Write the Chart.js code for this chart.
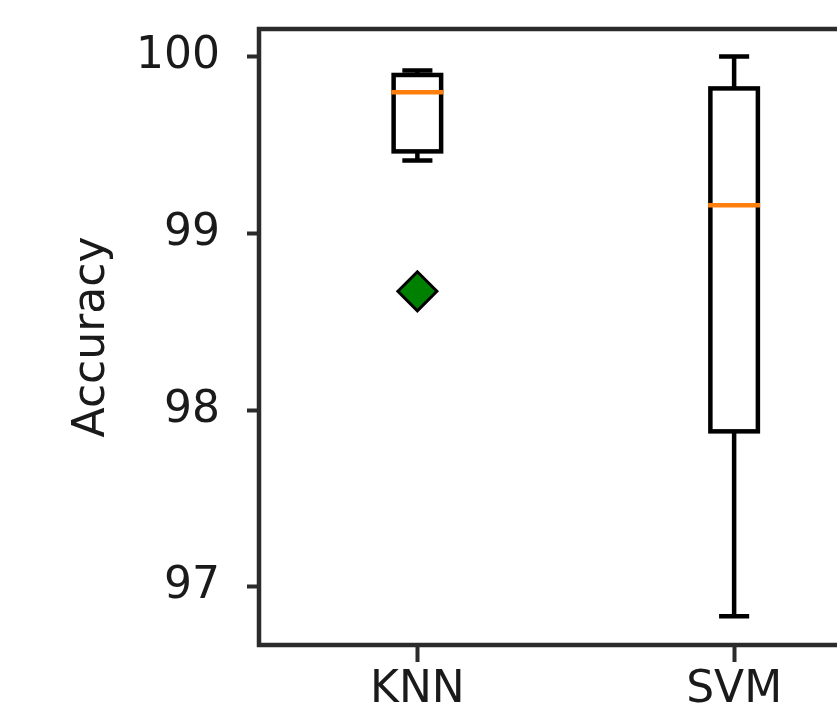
<!DOCTYPE html>
<html>
<head>
<meta charset="utf-8">
<script src="https://cdn.jsdelivr.net/npm/chart.js@4/dist/chart.umd.min.js"></script>
<style>
  html, body { margin: 0; padding: 0; background: #fff; overflow: hidden; }
  #frame { width: 837px; height: 709px; overflow: hidden; }
</style>
</head>
<body>
<div id="frame"><canvas id="chart" width="915" height="709"></canvas></div>
<script>
// box plot statistics
const labels      = ['KNN', 'SVM'];
const whiskerLow  = [99.412, 96.834];
const q1          = [99.463, 97.880];
const medians     = [99.797, 99.158];
const q3          = [99.895, 99.819];
const whiskerHigh = [99.921, 100.0];
const outliers    = [98.672, null];

const yTicks = [97, 98, 99, 100];
const yMin = 96.672;
const yMax = 100.155;

// widths as a fraction of the category spacing
const BOX_WIDTH = 0.15;
const CAP_WIDTH = 0.095;
const LINE_W = 4.5;

const boxPlugin = {
  id: 'boxes',
  beforeDatasetsDraw(chart) {
    const { ctx, scales: { x, y } } = chart;
    const step = x.getPixelForValue(1) - x.getPixelForValue(0);
    ctx.save();
    ctx.lineWidth = LINE_W;
    ctx.lineCap = 'butt';
    labels.forEach((_, i) => {
      const cx = x.getPixelForValue(i);
      const bw = step * BOX_WIDTH / 2;
      const cw = step * CAP_WIDTH / 2;
      const yq1 = y.getPixelForValue(q1[i]);
      const yq3 = y.getPixelForValue(q3[i]);
      const ylo = y.getPixelForValue(whiskerLow[i]);
      const yhi = y.getPixelForValue(whiskerHigh[i]);
      const ymed = y.getPixelForValue(medians[i]);

      ctx.strokeStyle = '#000';
      ctx.lineJoin = 'miter';
      ctx.strokeRect(cx - bw, yq3, bw * 2, yq1 - yq3);

      ctx.beginPath();
      ctx.moveTo(cx, yq1); ctx.lineTo(cx, ylo);
      ctx.moveTo(cx, yq3); ctx.lineTo(cx, yhi);
      ctx.moveTo(cx - cw, ylo); ctx.lineTo(cx + cw, ylo);
      ctx.moveTo(cx - cw, yhi); ctx.lineTo(cx + cw, yhi);
      ctx.stroke();

      ctx.strokeStyle = '#ff7f0e';
      ctx.beginPath();
      ctx.moveTo(cx - bw - LINE_W / 2, ymed);
      ctx.lineTo(cx + bw + LINE_W / 2, ymed);
      ctx.stroke();
    });
    ctx.restore();
  },
  afterDatasetsDraw(chart) {
    const { ctx, chartArea: a } = chart;
    ctx.save();
    ctx.strokeStyle = '#2b2b2b';
    ctx.lineWidth = LINE_W;
    ctx.strokeRect(a.left, a.top, a.right - a.left, a.bottom - a.top);
    ctx.restore();
  }
};

const FONT = { family: 'DejaVu Sans', size: 44 };

new Chart(document.getElementById('chart'), {
  type: 'line',
  data: {
    labels: labels,
    datasets: [{
      label: 'outliers',
      data: outliers,
      showLine: false,
      pointStyle: 'rectRot',
      pointRadius: 19.5,
      pointHoverRadius: 19.5,
      borderWidth: 3,
      borderColor: '#000',
      backgroundColor: '#008000'
    }]
  },
  options: {
    responsive: false,
    animation: false,
    events: [],
    layout: { padding: { top: 29, right: 3, left: 0, bottom: 0 } },
    plugins: {
      legend: { display: false },
      tooltip: { enabled: false }
    },
    scales: {
      x: {
        type: 'category',
        offset: true,
        border: { display: false },
        grid: {
          drawOnChartArea: false,
          tickLength: 17,
          tickWidth: 4,
          tickColor: '#2b2b2b'
        },
        ticks: { font: FONT, color: '#1a1a1a', padding: 2, maxRotation: 0 },
        afterFit(scale) {
          scale.height = 64;
          scale.paddingLeft = 0;
          scale.paddingRight = 0;
        }
      },
      y: {
        type: 'linear',
        min: yMin,
        max: yMax,
        border: { display: false },
        grid: {
          drawOnChartArea: false,
          tickLength: 12,
          tickWidth: 4,
          tickColor: '#2b2b2b'
        },
        ticks: { font: FONT, color: '#1a1a1a', padding: 27 },
        afterBuildTicks(scale) {
          scale.ticks = yTicks.map(v => ({ value: v }));
        },
        title: {
          display: true,
          text: 'Accuracy',
          font: FONT,
          color: '#1a1a1a',
          padding: { top: 66, bottom: 0 }
        },
        afterFit(scale) {
          scale.width = 259;
          scale.paddingTop = 0;
          scale.paddingBottom = 0;
        }
      }
    }
  },
  plugins: [boxPlugin]
});
</script>
</body>
</html>
